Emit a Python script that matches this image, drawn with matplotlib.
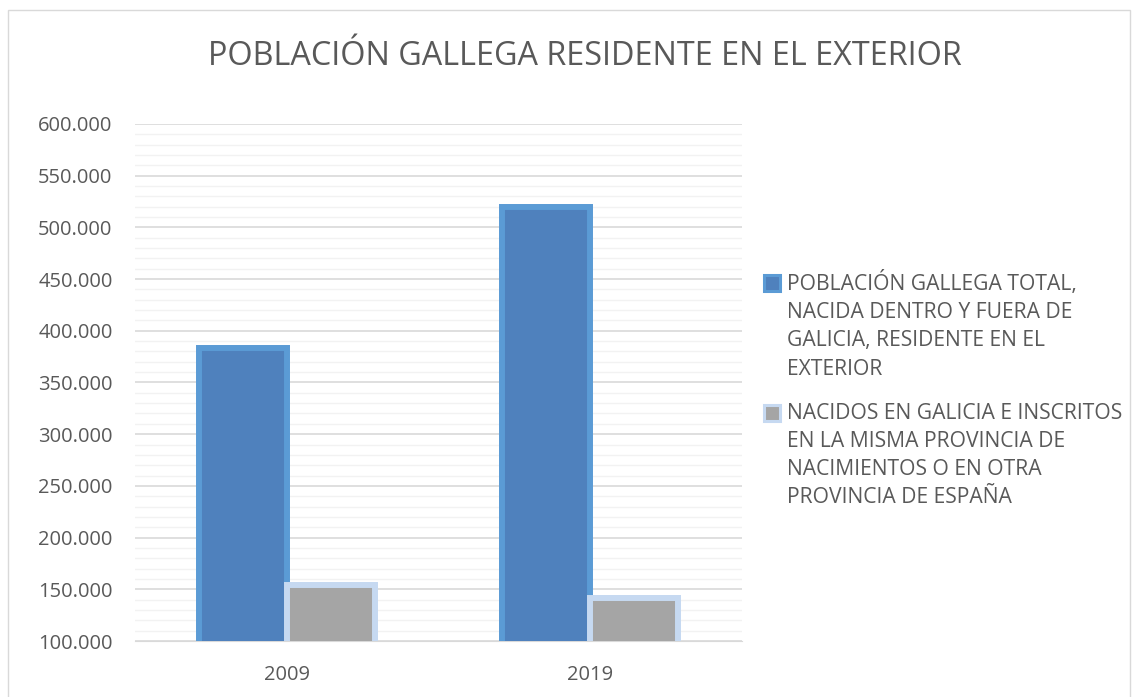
import matplotlib.pyplot as plt
import matplotlib.patches as mpatches
from matplotlib.container import BarContainer
from matplotlib.legend_handler import HandlerPatch
from matplotlib.ticker import MultipleLocator, FuncFormatter
import numpy as np

plt.rcParams['font.family'] = ['Open Sans', 'DejaVu Sans']

years = ["2009", "2019"]
total_exterior = [383500, 519500]
nacidos_galicia = [154500, 141500]
series_labels = [
    "POBLACIÓN GALLEGA TOTAL,\nNACIDA DENTRO Y FUERA DE\nGALICIA, RESIDENTE EN EL\nEXTERIOR",
    "NACIDOS EN GALICIA E INSCRITOS\nEN LA MISMA PROVINCIA DE\nNACIMIENTOS O EN OTRA\nPROVINCIA DE ESPAÑA",
]
title = "POBLACIÓN GALLEGA RESIDENTE EN EL EXTERIOR"

text_color = "#595959"

fig = plt.figure(figsize=(11.33, 6.97), dpi=100)
ax = fig.add_axes([0.119, 0.0803, 0.536, 0.742])

x = np.arange(len(years))
w = 0.29
b1 = ax.bar(x - w / 2, total_exterior, w, color="#4F81BD", edgecolor="#5B9BD5",
            linewidth=4.3, zorder=3)
b2 = ax.bar(x + w / 2, nacidos_galicia, w, color="#A5A5A5", edgecolor="#C6D9F1",
            linewidth=4.3, zorder=3)

ax.set_xlim(-0.5, 1.5)
ax.set_ylim(100000, 600000)
ax.yaxis.set_major_locator(MultipleLocator(50000))
ax.yaxis.set_minor_locator(MultipleLocator(10000))
ax.yaxis.set_major_formatter(FuncFormatter(lambda v, p: f"{int(v):,}".replace(",", ".")))
ax.grid(axis="y", which="major", color="#D9D9D9", linewidth=1.2, zorder=0)
ax.grid(axis="y", which="minor", color="#F2F2F2", linewidth=1.0, zorder=0)
ax.set_xticks(x)
ax.set_xticklabels(years)
ax.tick_params(axis="both", which="both", length=0, labelsize=14.5, colors=text_color)
ax.tick_params(axis="y", pad=16)
ax.tick_params(axis="x", pad=17)
for s in ["top", "right", "left"]:
    ax.spines[s].set_visible(False)
ax.spines["bottom"].set_color("#D9D9D9")

fig.text(0.516, 0.919, title, ha="center", va="center", fontsize=23.3, color=text_color)


# legend square next to the first line of each label, like Excel does
class TopSquare(HandlerPatch):
    def create_artists(self, legend, orig_handle, xdescent, ydescent, width, height,
                       fontsize, trans):
        first = orig_handle.patches[0]
        side = 11.5
        n_lines = 4
        line_h = 20.7  # points between lines
        y_top = -ydescent + height / 2 + (n_lines - 1) / 2 * line_h
        p = mpatches.Rectangle((-xdescent, y_top - side / 2), side, side,
                               facecolor=first.get_facecolor(),
                               edgecolor=first.get_edgecolor(), linewidth=2.2,
                               transform=trans)
        return [p]


leg = fig.legend([b1, b2], series_labels, loc="upper left",
                 bbox_to_anchor=(0.6574, 0.6385), frameon=False, fontsize=15.2,
                 labelcolor=text_color, handlelength=0.75, handleheight=0.9,
                 handletextpad=0.35, labelspacing=1.1,
                 handler_map={BarContainer: TopSquare()})
for t in leg.get_texts():
    t.set_linespacing(1.45)

fig.patches.append(mpatches.Rectangle((0.007, -0.01), 0.99, 0.996, transform=fig.transFigure,
                                      fill=False, edgecolor="#D9D9D9", linewidth=1))

fig.savefig("out.png", dpi=100)
